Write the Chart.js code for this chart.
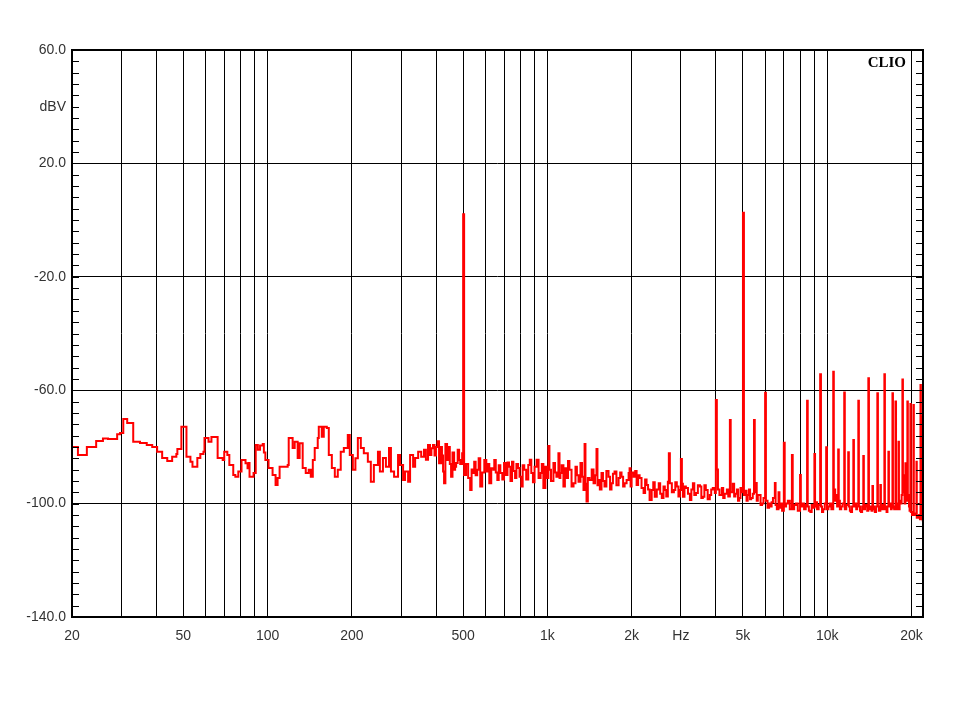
<!DOCTYPE html>
<html>
<head>
<meta charset="utf-8">
<title>CLIO FFT</title>
<script src="https://cdn.jsdelivr.net/npm/chart.js@4.4.0/dist/chart.umd.min.js"></script>
<style>
  html, body { margin: 0; padding: 0; background: #fff; }
  #wrap { width: 960px; height: 720px; position: relative; }
</style>
</head>
<body>
<div id="wrap"><canvas id="chart"></canvas></div>
<script>
// spectrum: frequency (Hz) and level (dBV)
var freqHz = [
  20, 21.0, 22.6, 24.4, 25.8, 26.9, 29.0, 29.7, 30.5, 31.5, 33.1, 35.0, 37.0, 38.7,
  40.3, 42.0, 43.8, 45.6, 47.2, 47.6, 49.2, 51.3, 53.0, 53.9, 56.1, 57.5, 59.0, 59.5,
  61.5, 63.0, 66.3, 69.1, 70.0, 71.8, 73.0, 75.4, 76.7, 78.6, 80.7, 83.4, 84.8, 85.5,
  86.2, 89.1, 90.7, 92.3, 94.0, 96.1, 97.0, 98.2, 100.8, 104.2, 106.8, 108.6, 110.4,
  114.1, 118.0, 119.0, 122.9, 125.0, 128.1, 130.2, 133.5, 136.9, 140.3, 142.7, 145.1,
  147.4, 151.1, 152.4, 156.2, 158.8, 162.8, 165.5, 169.7, 173.9, 178.2, 182.6, 187.3,
  193.5, 196.7, 201.7, 206.0, 210.2, 215.4, 220.8, 228.2, 233.9, 239.8, 248.0, 252.0,
  258.4, 264.8, 271.6, 276.0, 283.2, 292.6, 297.5, 305.0, 310.0, 317.9, 323.1, 331.2,
  336.8, 345.3, 354.0, 362.3, 368.0, 374.5, 380.7, 385.0, 390.2, 395.0, 400.0, 405.0,
  410.0, 416.8, 420.0, 423.8, 427.3, 432.0, 438.0, 445.3, 448.0, 452.7, 458.0, 464.2,
  468.0, 471.9, 478.0, 483.7, 488.0, 495.9, 500, 504, 512, 521, 529.8, 536, 543.1,
  547.6, 554, 561.3, 568, 575.5, 585, 595, 605, 612, 620, 630, 641, 646, 654, 662.4,
  670, 679, 690, 700, 711.7, 720, 729.3, 738, 747.6, 756, 766.5, 775, 785.8, 795,
  806.6, 816, 826.8, 840, 854.4, 865, 876, 888, 900, 915, 930, 945.7, 955, 967.5,
  983.6, 1000, 1008, 1017, 1030, 1051, 1065, 1077, 1095, 1105, 1113, 1125, 1141, 1155,
  1170, 1185, 1199, 1220, 1240, 1260, 1275, 1292, 1313, 1330, 1346, 1358, 1368, 1380,
  1395, 1414, 1440, 1462, 1480, 1498, 1510, 1523, 1540, 1561, 1580, 1600, 1625, 1654,
  1675, 1695, 1715, 1738, 1765, 1797, 1820, 1841, 1865, 1888, 1919, 1951, 1967, 1983,
  2000, 2034, 2060, 2084, 2110, 2136, 2170, 2207, 2235, 2262, 2290, 2319, 2359, 2390,
  2419, 2460, 2500, 2530, 2564, 2600, 2629, 2660, 2695, 2717, 2740, 2785, 2832, 2865,
  2901, 2940, 2975, 3000, 3025, 3050, 3090, 3126, 3180, 3231, 3270, 3312, 3350, 3396,
  3450, 3510, 3550, 3594, 3640, 3683, 3740, 3806, 3850, 3901, 3967, 4000, 4033, 4070,
  4120, 4203, 4250, 4300, 4380, 4430, 4490, 4520, 4600, 4650, 4700, 4758, 4800, 4850,
  4900, 4950, 5000, 5040, 5100, 5150, 5200, 5254, 5300, 5350, 5420, 5475, 5510, 5560,
  5600, 5650, 5710, 5780, 5850, 5920, 6000, 6040, 6120, 6200, 6255, 6330, 6400, 6500,
  6540, 6607, 6700, 6750, 6800, 6900, 7000, 7050, 7130, 7235, 7350, 7480, 7530, 7620,
  7740, 7850, 8000, 8050, 8150, 8268, 8380, 8475, 8520, 8600, 8708, 8800, 8900, 9000,
  9050, 9120, 9200, 9320, 9438, 9500, 9580, 9675, 9800, 9917, 9980, 10100, 10200, 10350,
  10510, 10560, 10600, 10680, 10750, 10850, 10948, 11000, 11100, 11225, 11350, 11505,
  11560, 11700, 11890, 11950, 12050, 12150, 12270, 12400, 12460, 12580, 12700, 12800,
  12920, 12980, 13100, 13200, 13330, 13460, 13520, 13650, 13800, 13900, 14030, 14100,
  14250, 14400, 14510, 14580, 14700, 14800, 14950, 15110, 15180, 15300, 15490, 15560,
  15700, 15850, 16010, 16080, 16200, 16300, 16420, 16550, 16620, 16750, 16900, 17000,
  17110, 17180, 17350, 17540, 17620, 17800, 17980, 18050, 18150, 18300, 18450, 18570,
  18650, 18750, 18900, 19033, 19100, 19200, 19346, 19420, 19600, 19700, 19834, 19900,
  20100, 20200, 20333, 20400, 20600, 20846, 20900, 21100, 21300, 21450, 21550, 21620,
  21800, 21909, 21960, 22000
];
var levelDbv = [
  -80.0, -82.9, -80.0, -77.9, -77.0, -77.2, -75.5, -75.1, -70.2, -71.6, -78.2, -78.6, -79.3, -80.0,
  -81.7, -83.9, -85.0, -83.5, -82.5, -80.7, -72.9, -83.5, -85.2, -87.0, -83.9, -82.5, -81.7, -76.9,
  -78.2, -76.5, -83.9, -84.6, -81.7, -82.9, -86.4, -89.9, -90.5, -88.7, -84.6, -85.8, -87.5, -85.7,
  -90.5, -89.2, -79.3, -81.0, -79.5, -79.0, -82.0, -84.6, -87.4, -89.9, -93.4, -91.0, -87.0,
  -87.0, -86.4, -76.9, -80.4, -78.2, -83.9, -78.7, -87.4, -89.2, -88.1, -90.5, -84.6,
  -80.4, -76.9, -72.9, -76.4, -72.9, -73.3, -82.9, -87.4, -90.5, -88.1, -81.7, -80.4,
  -75.8, -82.9, -88.1, -84.0, -76.9, -80.4, -82.2, -85.2, -92.3, -86.4, -81.7, -88.7,
  -83.9, -87.0, -80.4, -88.7, -90.5, -82.9, -86.4, -91.7, -88.7, -92.3, -82.9, -87.0,
  -83.9, -81.7, -83.5, -81.0, -84.5, -79.3, -82.9, -80.5, -79.3, -83.0, -80.0, -78.0,
  -85.8, -80.0, -83.0, -88.7, -92.8, -79.0, -84.6, -80.0, -86.0, -90.5, -82.0, -88.1,
  -87.0, -85.7, -81.0, -84.6, -86.0, -82.2, 2.1, -89.9, -86.0, -91.0, -95.2, -88.0, -89.2,
  -85.2, -90.0, -88.1, -84.0, -94.0, -89.0, -84.6, -88.7, -86.0, -92.8, -87.5, -88.1, -84.6, -89.0, -91.7,
  -86.5, -89.2, -91.5, -85.7, -89.9, -85.5, -87.0, -92.0, -85.2, -88.5, -91.0, -86.0, -87.4, -90.5,
  -94.0, -86.5, -88.1, -91.5, -86.4, -84.5, -89.2, -92.5, -87.0, -84.5, -91.0, -89.2, -86.0, -94.5,
  -87.0, -91.0, -79.7, -88.1, -92.0, -85.7, -89.0, -90.5, -82.2, -91.0, -89.2, -86.5, -94.0, -87.5,
  -91.0, -85.0, -88.1, -94.0, -92.8, -87.0, -90.0, -92.3, -85.7, -90.5, -95.2, -79.0, -93.0, -99.3,
  -91.0, -91.7, -88.0, -92.8, -90.0, -80.7, -93.5, -91.7, -95.0, -89.2, -92.0, -94.0, -88.5, -90.5,
  -95.0, -92.8, -89.5, -88.7, -93.5, -91.0, -89.0, -90.5, -94.0, -92.8, -91.7, -89.2, -87.5, -94.0,
  -89.0, -90.5, -88.5, -93.4, -90.0, -91.0, -94.5, -96.3, -91.5, -93.4, -95.0, -98.7, -95.2, -92.5,
  -97.6, -95.0, -92.8, -96.5, -98.0, -94.0, -95.2, -97.5, -92.3, -82.2, -92.8, -96.0, -95.2, -92.5,
  -94.0, -97.5, -95.2, -84.3, -93.0, -97.6, -94.0, -94.5, -96.5, -98.7, -95.0, -92.8, -97.0, -96.3,
  -93.5, -94.0, -98.0, -97.6, -93.5, -95.2, -98.5, -97.0, -95.0, -94.5, -96.3, -63.5, -88.0, -95.0,
  -97.0, -94.5, -98.0, -96.5, -95.0, -97.5, -70.5, -96.0, -93.0, -97.5, -96.5, -95.0, -99.0, -98.0,
  -94.5, -96.0, 2.6, -97.0, -95.5, -99.0, -97.0, -95.0, -98.5, -98.0, -96.5, -70.5, -96.0, -92.7,
  -99.0, -97.0, -97.0, -100.5, -100.0, -98.0, -60.9, -99.0, -101.5, -100.0, -101.0, -99.5, -98.0, -92.7,
  -100.5, -102.0, -96.0, -101.5, -100.0, -102.5, -78.5, -101.0, -100.0, -99.0, -102.0, -82.9, -102.0, -100.5,
  -100.0, -102.5, -89.9, -101.0, -100.0, -102.0, -100.5, -63.7, -101.0, -102.5, -103.0, -100.5, -101.5, -82.5,
  -101.0, -99.5, -102.0, -100.5, -54.4, -101.0, -103.0, -102.0, -100.0, -80.1, -102.0, -101.0, -100.0, -102.0,
  -53.5, -98.0, -95.0, -99.0, -97.0, -101.0, -80.9, -99.0, -102.0, -101.0, -100.0, -60.8,
  -102.0, -100.5, -81.9, -101.0, -102.5, -103.0, -101.0, -77.6, -101.0, -100.0, -102.0, -101.0,
  -63.7, -101.0, -102.5, -103.0, -101.0, -83.2, -102.0, -100.5, -101.0, -102.5, -55.8, -102.0,
  -101.0, -102.5, -93.8, -101.0, -102.0, -103.0, -101.0, -61.1, -101.0, -102.5, -93.4, -102.0,
  -100.5, -102.0, -54.4, -101.0, -102.0, -103.0, -101.0, -81.7, -101.0, -100.0, -102.0, -101.5,
  -61.1, -101.0, -102.0, -64.0, -100.0, -102.0, -78.2, -102.0, -99.0, -100.0, -97.0, -56.2,
  -90.0, -96.0, -100.0, -85.8, -92.0, -99.0, -64.0, -97.0, -101.0, -102.5, -64.9, -103.0,
  -104.0, -103.0, -65.2, -104.0, -103.5, -85.2, -105.0, -104.5, -104.0, -105.5, -58.2, -105.0,
  -105.5, -69.3, -106.0, -106.5
];

// axis: vertical grid lines and their labels
var xGridHz = [20, 30, 40, 50, 60, 70, 80, 90, 100, 200, 300, 400, 500, 600, 700, 800, 900,
  1000, 2000, 3000, 4000, 5000, 6000, 7000, 8000, 9000, 10000, 20000];
var xTickText = { 20: '20', 50: '50', 100: '100', 200: '200', 500: '500', 1000: '1k',
  2000: '2k', 3000: 'Hz', 5000: '5k', 10000: '10k', 20000: '20k' };
var yTickValues = [60, 40, 20, -20, -60, -100, -140];
var yTickText = ['60.0', 'dBV', '20.0', '-20.0', '-60.0', '-100.0', '-140.0'];

var points = freqHz.map(function (f, i) { return { x: f, y: levelDbv[i] }; });

// frame, small inward ticks and the CLIO mark
var framePlugin = {
  id: 'frame',
  afterDraw: function (chart) {
    var ctx = chart.ctx, a = chart.chartArea, ys = chart.scales.y;
    ctx.save();
    ctx.strokeStyle = '#000';
    ctx.lineWidth = 2;
    ctx.strokeRect(a.left, a.top, a.right - a.left, a.bottom - a.top);
    ctx.lineWidth = 1;
    ctx.beginPath();
    for (var v = -140; v <= 60; v += 4) {
      var py = Math.round(ys.getPixelForValue(v)) + 0.5;
      ctx.moveTo(a.left, py); ctx.lineTo(a.left + 7, py);
      ctx.moveTo(a.right, py); ctx.lineTo(a.right - 7, py);
    }
    ctx.stroke();
    ctx.font = 'bold 15px "Liberation Serif"';
    ctx.fillStyle = '#000';
    ctx.textAlign = 'right';
    ctx.fillText('CLIO', a.right - 17, a.top + 17);
    ctx.restore();
  }
};

var ctx = document.getElementById('chart').getContext('2d');
var chart = new Chart(ctx, {
  type: 'line',
  data: {
    datasets: [{
      data: points,
      borderColor: '#ff0000',
      borderWidth: 2,
      pointRadius: 0,
      stepped: true,
      fill: false
    }]
  },
  options: {
    responsive: true,
    maintainAspectRatio: false,
    animation: false,
    layout: { padding: { top: 50, right: 37, bottom: 0, left: 0 } },
    plugins: { legend: { display: false }, tooltip: { enabled: false } },
    scales: {
      x: {
        type: 'logarithmic',
        min: 20,
        max: 22000,
        afterBuildTicks: function (s) { s.ticks = xGridHz.map(function (v) { return { value: v }; }); },
        afterFit: function (s) { s.height = 103; },
        border: { display: false },
        grid: { color: '#000', lineWidth: 1, drawTicks: false },
        ticks: {
          autoSkip: false, maxRotation: 0, padding: 11, color: '#333',
          font: { family: 'Liberation Sans', size: 14 },
          callback: function (v) { return xTickText[v] || ''; }
        }
      },
      y: {
        type: 'linear',
        min: -140,
        max: 60,
        afterBuildTicks: function (s) { s.ticks = yTickValues.map(function (v) { return { value: v }; }); },
        afterFit: function (s) { s.width = 72; },
        border: { display: false },
        grid: {
          drawTicks: false, lineWidth: 1,
          color: function (c) { return c.tick && c.tick.value === 40 ? 'rgba(0,0,0,0)' : '#000'; }
        },
        ticks: {
          autoSkip: false, padding: 6, color: '#333',
          font: { family: 'Liberation Sans', size: 14 },
          callback: function (v) { return yTickText[yTickValues.indexOf(v)]; }
        }
      }
    }
  },
  plugins: [framePlugin]
});
</script>
</body>
</html>
